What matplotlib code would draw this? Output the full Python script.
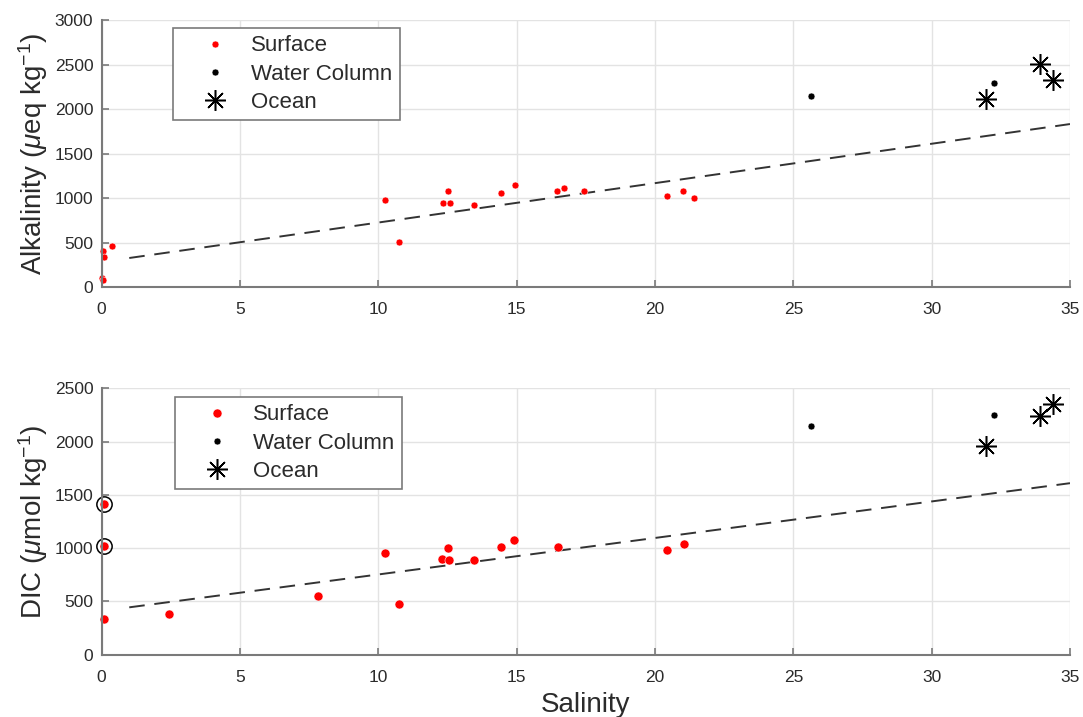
import matplotlib
matplotlib.use('Agg')
import matplotlib.pyplot as plt
from matplotlib.lines import Line2D

plt.rcParams['font.family'] = ['Liberation Sans', 'DejaVu Sans']
plt.rcParams['mathtext.fontset'] = 'custom'
plt.rcParams['mathtext.rm'] = 'Liberation Sans'
plt.rcParams['mathtext.it'] = 'Liberation Sans:italic'

# surface samples, alkalinity panel
sal_surf_alk = [0.05, 0.10, 0.37, 0.02, 0.04, 10.25, 10.76, 12.52, 12.34, 12.59,
                13.47, 14.43, 14.93, 16.45, 16.70, 17.44, 20.45, 21.03, 21.41]
alk_surf = [400, 333, 458, 100, 80, 981, 508, 1083, 940, 943,
            920, 1060, 1151, 1080, 1117, 1080, 1019, 1080, 1003]

# surface samples, DIC panel
sal_surf_dic = [0.08, 0.08, 0.10, 2.45, 7.81, 10.26, 10.76, 12.52, 12.31, 12.57,
                13.47, 14.44, 14.92, 16.48, 20.45, 21.05]
dic_surf = [1412, 1021, 335, 378, 547, 956, 472, 1000, 903, 885,
            885, 1012, 1080, 1012, 984, 1043]

# flagged surface points (circled)
sal_flag = [0.08, 0.08]
dic_flag = [1412, 1021]

# water column
sal_wc = [25.65, 32.26]
alk_wc = [2150, 2297]
dic_wc = [2150, 2253]

# ocean end-members
sal_ocean = [31.95, 33.9, 34.4]
alk_ocean = [2113, 2511, 2331]
dic_ocean = [1960, 2244, 2351]

# mixing lines
fit_sal = [1, 35]
fit_alk = [326, 1831]
fit_dic = [445, 1610]

grey_axis = '#7a7a7a'
txt = '#2b2b2b'
star = (8, 2, 0)


def style_axes(ax, ylim, yticks):
    ax.set_xlim(0, 35)
    ax.set_ylim(*ylim)
    ax.set_xticks(range(0, 36, 5))
    ax.set_yticks(yticks)
    ax.grid(True, color='#e3e3e3', lw=1)
    ax.set_axisbelow(True)
    for s in ['top', 'right']:
        ax.spines[s].set_visible(False)
    for s in ['left', 'bottom']:
        ax.spines[s].set_color(grey_axis)
        ax.spines[s].set_linewidth(1.5)
    ax.tick_params(direction='in', length=5, width=1.2, color=grey_axis,
                   labelsize=12.5, labelcolor=txt)
    ax.tick_params(axis='x', pad=11)
    ax.tick_params(axis='y', pad=6)


def add_legend(ax, surf_ms, anchor):
    handles = [
        Line2D([], [], ls='none', marker='o', color='red', ms=surf_ms, mec='white', mew=0.4),
        Line2D([], [], ls='none', marker='o', color='black', ms=5, mec='white', mew=0.4),
        Line2D([], [], ls='none', marker=star, color='black', ms=15, mew=1.1),
    ]
    leg = ax.legend(handles, ['Surface', 'Water Column', 'Ocean'], loc='upper left',
                    bbox_to_anchor=anchor, borderaxespad=0, fancybox=False,
                    edgecolor=grey_axis, framealpha=1, fontsize=16,
                    handletextpad=0.1, labelspacing=0.33, borderpad=0.33,
                    handlelength=3.1)
    leg.get_frame().set_linewidth(1.2)
    for t in leg.get_texts():
        t.set_color(txt)


fig = plt.figure(figsize=(10.83, 7.17), dpi=100)
ax1 = fig.add_axes([0.0938, 0.5997, 0.8942, 0.3724])
ax2 = fig.add_axes([0.0938, 0.0868, 0.8942, 0.3716])

# alkalinity vs salinity
style_axes(ax1, (0, 3000), range(0, 3001, 500))
ax1.plot(fit_sal, fit_alk, ls=(0, (8, 5)), color='#333333', lw=1.4)
ax1.plot(sal_surf_alk, alk_surf, 'o', color='red', ms=5, mec='white', mew=0.4, clip_on=False)
ax1.plot(sal_wc, alk_wc, 'o', color='black', ms=5, mec='white', mew=0.4)
ax1.plot(sal_ocean, alk_ocean, ls='none', marker=star, color='black', ms=15, mew=1.1, clip_on=False)
ax1.set_ylabel(r'Alkalinity ($\mu$eq kg$^{-1}$)', fontsize=20, color=txt, labelpad=3)
add_legend(ax1, 5, (0.0737, 0.97))

# DIC vs salinity
style_axes(ax2, (0, 2500), range(0, 2501, 500))
ax2.plot(fit_sal, fit_dic, ls=(0, (8, 5)), color='#333333', lw=1.4)
ax2.plot(sal_surf_dic, dic_surf, 'o', color='red', ms=6.5, mec='white', mew=0.4, clip_on=False)
ax2.plot(sal_flag, dic_flag, 'o', mfc='none', mec='black', ms=11, mew=1.1, clip_on=False)
ax2.plot(sal_wc, dic_wc, 'o', color='black', ms=5, mec='white', mew=0.4)
ax2.plot(sal_ocean, dic_ocean, ls='none', marker=star, color='black', ms=15, mew=1.1, clip_on=False)
ax2.set_ylabel(r'DIC ($\mu$mol kg$^{-1}$)', fontsize=20, color=txt, labelpad=3)
ax2.set_xlabel('Salinity', fontsize=20, color=txt, labelpad=5)
add_legend(ax2, 6.5, (0.0758, 0.967))

fig.savefig('out.png', dpi=100)
